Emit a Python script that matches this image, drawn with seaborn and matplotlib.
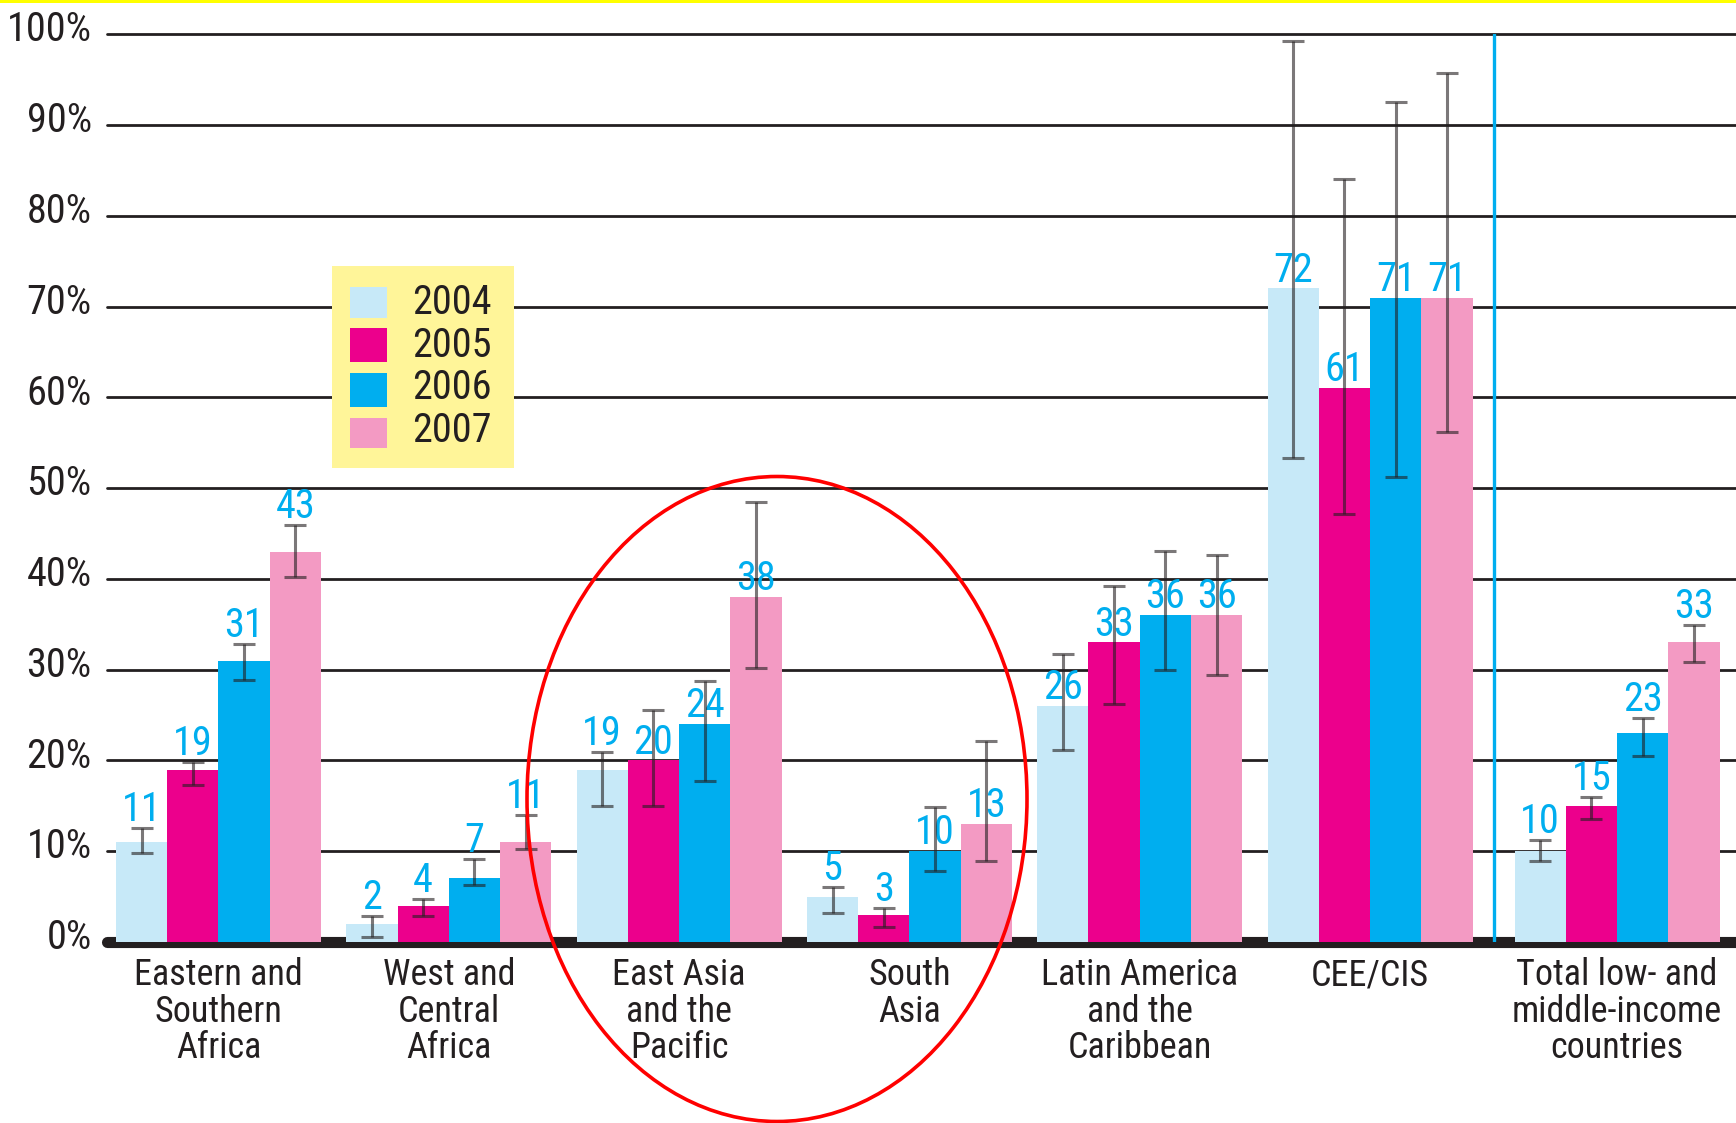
import matplotlib
matplotlib.use("Agg")
import matplotlib.pyplot as plt
from matplotlib.patches import Ellipse, Rectangle
from matplotlib.transforms import ScaledTranslation
import numpy as np
import pandas as pd
import seaborn as sns

# ---- data -------------------------------------------------------------
regions = [
    "Eastern and\nSouthern\nAfrica",
    "West and\nCentral\nAfrica",
    "East Asia\nand the\nPacific",
    "South\nAsia",
    "Latin America\nand the\nCaribbean",
    "CEE/CIS",
    "Total low- and\nmiddle-income\ncountries",
]
years = ["2004", "2005", "2006", "2007"]

values_2004 = [11, 2, 19, 5, 26, 72, 10]
values_2005 = [19, 4, 20, 3, 33, 61, 15]
values_2006 = [31, 7, 24, 10, 36, 71, 23]
values_2007 = [43, 11, 38, 13, 36, 71, 33]

low_2004 = [9.8, 0.6, 15.0, 3.2, 21.2, 53.3, 8.9]
high_2004 = [12.6, 2.9, 20.9, 6.1, 31.7, 99.3, 11.2]
low_2005 = [17.3, 2.9, 15.0, 1.6, 26.2, 47.1, 13.5]
high_2005 = [19.8, 4.7, 25.6, 3.7, 39.2, 84.1, 16.0]
low_2006 = [28.9, 6.3, 17.7, 7.8, 30.0, 51.2, 20.5]
high_2006 = [32.8, 9.1, 28.7, 14.9, 43.1, 92.5, 24.7]
low_2007 = [40.2, 10.2, 30.2, 8.9, 29.4, 56.2, 30.8]
high_2007 = [45.9, 14.0, 48.5, 22.1, 42.6, 95.7, 34.9]

y_ticks = [0, 10, 20, 30, 40, 50, 60, 70, 80, 90, 100]
y_tick_labels = [f"{t}%" for t in y_ticks]

series = {
    "2004": (values_2004, low_2004, high_2004),
    "2005": (values_2005, low_2005, high_2005),
    "2006": (values_2006, low_2006, high_2006),
    "2007": (values_2007, low_2007, high_2007),
}

# group slots: the aggregate group sits a little further out, past the divider
total_gap = 0.0725
slots = np.arange(len(regions), dtype=float)
slots[-1] += total_gap

df = pd.DataFrame(
    [
        {"slot": s, "year": y, "value": v}
        for y in years
        for s, v in zip(slots, series[y][0])
    ]
)

palette = {"2004": "#c7e9f8", "2005": "#ec008c", "2006": "#00aeef", "2007": "#f39ac3"}
ink = "#231f20"
label_blue = "#00aeef"

# ---- figure -----------------------------------------------------------
sns.set_theme(style="white")
plt.rcParams["font.family"] = ["Roboto Condensed", "Archivo Narrow", "PT Sans Narrow",
                               "IBM Plex Sans Condensed", "DejaVu Sans"]

W, H = 1736, 1123
fig = plt.figure(figsize=(W / 100, H / 100), dpi=100)
fig.patch.set_facecolor("white")


def fx(px):
    return px / W


def fy(py):
    return 1 - py / H


ax_left, ax_right = fx(107), 1.0
ax_bottom, ax_top = fy(942), fy(34.3)
ax = fig.add_axes([ax_left, ax_bottom, ax_right - ax_left, ax_top - ax_bottom])

sns.barplot(
    data=df, x="slot", y="value", hue="year", hue_order=years, native_scale=True,
    palette=palette, saturation=1, width=0.89, errorbar=None, ax=ax,
    edgecolor="none", linewidth=0, zorder=2, legend=False,
)

ax.set_ylim(0, 100)
ax.set_xlim(-0.484, 6.589)
for s in ax.spines.values():
    s.set_visible(False)
ax.set_xlabel("")
ax.set_ylabel("")

# horizontal rules
for t in y_ticks[1:]:
    ax.axhline(t, color=ink, lw=2.0, zorder=0.8, clip_on=False)
# heavy base rule
ax.axhline(0, color=ink, lw=8, zorder=1, clip_on=False)

# divider before the total group
ax.axvline((slots[-2] + slots[-1]) / 2, ymin=0, ymax=1, color="#00aeef", lw=2.4, zorder=1.5)

ax.set_yticks(y_ticks)
ax.set_yticklabels(y_tick_labels)
ax.tick_params(axis="y", length=0, pad=11, labelsize=29, labelcolor=ink)
lift = ScaledTranslation(0, 6 / 72, fig.dpi_scale_trans)
for lab in ax.get_yticklabels():
    lab.set_transform(lab.get_transform() + lift)

ax.set_xticks(slots)
ax.set_xticklabels(regions, linespacing=1.02)
ax.tick_params(axis="x", length=0, pad=11, labelsize=26, labelcolor=ink)

# error bars and value labels
for container, yr in zip(ax.containers, years):
    vals, lows, highs = series[yr]
    xs = [b.get_x() + b.get_width() / 2 for b in container]
    vals_a = np.array(vals, float)
    lo = vals_a - np.array(lows)
    hi = np.array(highs) - vals_a
    ax.errorbar(xs, vals_a, yerr=[lo, hi], fmt="none", ecolor=ink, elinewidth=2.2,
                capsize=8, capthick=2.2, alpha=0.6, zorder=4, clip_on=False)
    for x, v, h in zip(xs, vals, highs):
        base = h if (h - v) <= 4 else v
        ax.annotate(str(v), xy=(x, base), xytext=(0, 5), textcoords="offset points",
                    ha="center", va="baseline", color=label_blue, fontsize=29, zorder=3)

# legend panel
fig.add_artist(Rectangle((fx(332), fy(468)), fx(514) - fx(332), fy(266) - fy(468),
                         transform=fig.transFigure, facecolor="#fff599",
                         edgecolor="none", zorder=5))
legend_rows = [(287, 318, 314), (328, 362, 357), (373, 407, 399), (418, 448, 442)]
for yr, (top, bot, base) in zip(years, legend_rows):
    fig.add_artist(Rectangle((fx(350), fy(bot)), fx(387) - fx(350), fy(top) - fy(bot),
                             transform=fig.transFigure, facecolor=palette[yr],
                             edgecolor="none", zorder=6))
    fig.text(fx(412), fy(base), yr, ha="left", va="baseline", fontsize=29,
             color=ink, zorder=7)

# highlight ring around the Asian regions
fig.add_artist(Ellipse((fx(777), fy(799)), 500 / W, 645 / H, transform=fig.transFigure,
                       fill=False, edgecolor="#ff0000", lw=2.6, zorder=10))

# yellow rule along the top edge
fig.add_artist(Rectangle((0, fy(3)), 1, 3 / H, transform=fig.transFigure,
                         facecolor="#ffff00", edgecolor="none", zorder=10))

fig.savefig("out.png", dpi=100, facecolor="white")
